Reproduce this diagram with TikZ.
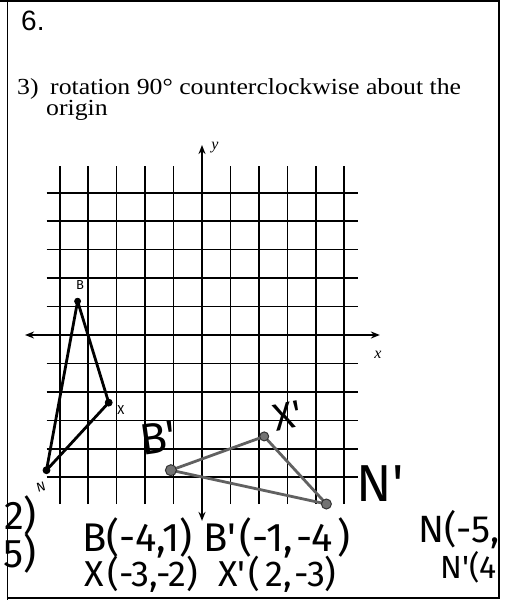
\documentclass[tikz,border=0pt]{standalone}
\usepackage{fontspec}
\setmainfont{Liberation Serif}
\newfontfamily\sansf{Liberation Sans}
\newfontfamily\hand{Fira Sans}
\usetikzlibrary{arrows.meta}
\begin{document}
\begin{tikzpicture}[x=1pt,y=-1pt,
  framel/.style={line width=1.6pt},
  gridline/.style={line width=1.7pt},
  axisline/.style={line width=2.2pt,{Stealth[length=9pt,width=7pt]}-{Stealth[length=9pt,width=7pt]}},
  pre/.style={line width=2.8pt,black},
  img/.style={line width=2.8pt,black!62},
  predot/.style={fill=black,draw=black,line width=0.8pt},
  imgdot/.style={fill=black!55,draw=black!80,line width=1pt},
  hw/.style={font=\hand\fontsize{#1}{#1}\selectfont,inner sep=0pt,text=black},
  vl/.style={font=\hand\fontsize{13}{13}\selectfont,inner sep=0pt},
  axl/.style={font=\itshape\fontsize{16}{16}\selectfont,inner sep=0pt}]
\useasboundingbox (0,0) rectangle (506,600);
% frame
\draw[framel] (0,1) -- (499,1);
\draw[framel] (7.5,0) -- (7.5,600);
\draw[framel] (499,0) -- (499,599);
\draw[framel] (7.5,598) -- (499,598);
% header texts
\node[font=\sansf\fontsize{28}{28}\selectfont,anchor=base west,inner sep=0pt] (num) at (21,30) {6.};
\node[font=\fontsize{23}{19}\selectfont,anchor=north west,inner sep=0pt,align=left] (q) at (17,78)
  {\scalebox{1.12}[1]{3)\hspace{0.45em}rotation 90° counterclockwise about the}\\
   \hspace{29pt}\scalebox{1.12}[1]{origin}};
% grid
\begin{scope}[shift={(202,335)},x=31.1pt,y=33.8pt]
  \draw[gridline] (-5,-5) grid (5,5);
  \coordinate (xl) at (-5.69,0);
  \coordinate (xr) at (5.72,0);
  \coordinate (yt) at (0,5.62);
  \coordinate (yb) at (0,-5.5);
  \draw[axisline] (xl) -- (xr);
  \draw[axisline] (yb) -- (yt);
  \coordinate (B) at (-4,1);
  \coordinate (X) at (-3,-2);
  \coordinate (N) at (-5,-4);
  \coordinate (B1) at (-1,-4);
  \coordinate (X1) at (2,-3);
  \coordinate (N1) at (4,-5);
\end{scope}
\node[axl] (ylab) at (215,148) {y};
\node[axl] (xlab) at (378,355) {x};
% original triangle
\draw[pre,line join=round] (B) -- (X) -- (N) -- cycle;
\fill[predot] (B) circle (3);
\fill[predot] (X) circle (3.5);
\fill[predot] (N) circle (3.5);
\node[vl] (Bl) at (80,285) {B};
\node[vl] (Xl) at (121,410) {X};
\node[vl,rotate=15] (Nl) at (41,487) {N};
% image triangle
\draw[img,line join=round] (B1) -- (X1) -- (N1) -- cycle;
\filldraw[imgdot] (B1) circle (5.5);
\filldraw[imgdot] (X1) circle (4.5);
\filldraw[imgdot] (N1) circle (5);
% handwritten labels
\node[hw=44,rotate=8] (B1l) at (158,438) {B'};
\node[hw=38,rotate=12] (X1l) at (288,416) {X'};
\node[hw=52] (N1l) at (380,484) {N'};
% handwritten coordinates
\node[hw=40,anchor=west] (Bc) at (82,538) {B(-4,1)};
\node[hw=40,anchor=west] (Bc1) at (203,538) {B'\hspace{4pt}(-1,\hspace{3pt}-4\hspace{4pt})};
\node[hw=36,anchor=west] (Xc) at (84,574) {X\hspace{4pt}(-3,-2)};
\node[hw=36,anchor=west] (Xc1) at (218,574) {X'\hspace{3pt}(\hspace{5pt}2,\hspace{3pt}-3)};
\begin{scope}
  \clip (7.5,0) rectangle (498,600);
  \node[hw=38,anchor=west] (Nc) at (418,530) {N(-5,};
  \node[hw=32,anchor=west] (Nc1) at (440,567) {N'(4};
\end{scope}
\node[hw=40,anchor=east] (f1) at (37,515) {2)};
\node[hw=40,anchor=east] (f2) at (37,553) {5)};
\end{tikzpicture}
\end{document}
